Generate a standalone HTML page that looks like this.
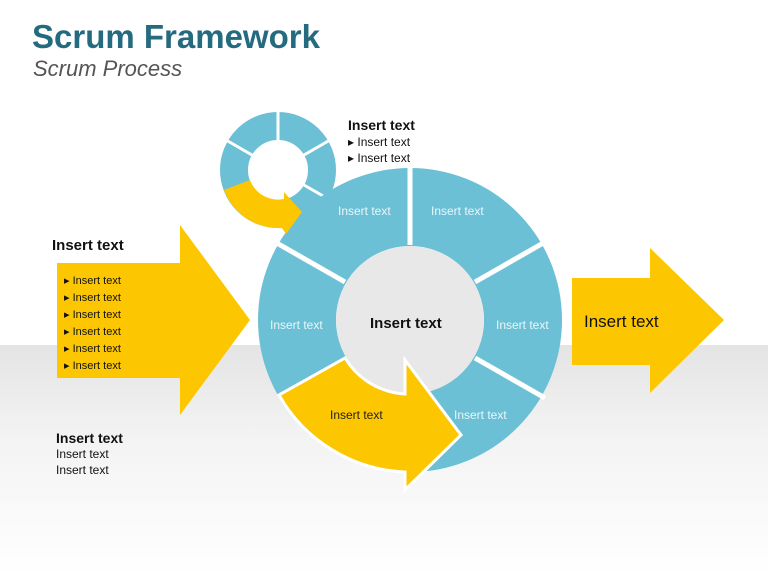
<!DOCTYPE html>
<html><head><style>
body{margin:0;width:768px;height:576px;overflow:hidden;font-family:"Liberation Sans",Arial,sans-serif;background:#fff;position:relative}
.bg{position:absolute;left:0;top:345px;width:768px;height:231px;background:linear-gradient(#e4e4e4,#f3f3f3 40%,#fff)}
.t{position:absolute;white-space:nowrap}
</style></head><body>
<div class="bg"></div>
<div class="t" style="left:32px;top:18px;font-size:33px;font-weight:bold;color:#256b80">Scrum Framework</div>
<div class="t" style="left:33px;top:56px;font-size:22px;font-style:italic;color:#555">Scrum Process</div>
<svg width="768" height="576" style="position:absolute;left:0;top:0">
<!-- small ring -->
<circle cx="278" cy="170" r="44" fill="none" stroke="#6cc0d5" stroke-width="28"/>
<g stroke="#fff" stroke-width="3">
<line x1="278" y1="110" x2="278" y2="141"/>
<line x1="304" y1="155" x2="330" y2="140"/>
<line x1="304" y1="185" x2="330" y2="200"/>
<line x1="252" y1="155" x2="226" y2="140"/>
</g>
<!-- big ring -->
<circle cx="410" cy="320" r="113" fill="none" stroke="#6cc0d5" stroke-width="78"/>
<circle cx="410" cy="320" r="74" fill="#e8e8e8"/>
<g stroke="#fff" stroke-width="5">
<line x1="410" y1="245" x2="410" y2="165"/>
<line x1="475" y1="282" x2="545" y2="242"/>
<line x1="475" y1="358" x2="545" y2="398"/>
<line x1="345" y1="282" x2="275" y2="242"/>
</g>
<!-- small arrow -->
<path d="M224,190 A58 58 0 0 0 282,228 L286,234 L302,212 L284,192 L284,199 A30 30 0 0 1 250,180 Z" fill="#fcc600"/>
<!-- big yellow arrow -->
<path d="M279,395 A152 152 0 0 0 405,472 L405,490 L461,435 L405,360 L405,394 A75 75 0 0 1 345,358 Z" fill="#fcc600" stroke="#fff" stroke-width="3"/>
<!-- left arrow -->
<path d="M57,263 L180,263 L180,225 L250,320 L180,415 L180,378 L57,378 Z" fill="#fcc600"/>
<!-- right arrow -->
<path d="M572,278 L650,278 L650,248 L724,320 L650,393 L650,365 L572,365 Z" fill="#fcc600"/>
</svg>
<div class="t" style="left:338px;top:204px;font-size:12px;color:#eaf6fa">Insert text</div>
<div class="t" style="left:431px;top:204px;font-size:12px;color:#eaf6fa">Insert text</div>
<div class="t" style="left:270px;top:318px;font-size:12px;color:#eaf6fa">Insert text</div>
<div class="t" style="left:496px;top:318px;font-size:12px;color:#eaf6fa">Insert text</div>
<div class="t" style="left:454px;top:408px;font-size:12px;color:#eaf6fa">Insert text</div>
<div class="t" style="left:330px;top:408px;font-size:12px;color:#222">Insert text</div>
<div class="t" style="left:370px;top:315px;font-size:15px;font-weight:bold;color:#111">Insert text</div>
<div class="t" style="left:584px;top:312px;font-size:17px;color:#111">Insert text</div>
<div class="t" style="left:348px;top:117px;font-size:14px;font-weight:bold;color:#111">Insert text</div>
<div class="t" style="left:348px;top:134px;font-size:12px;line-height:16px;color:#111">▸ Insert text<br>▸ Insert text</div>
<div class="t" style="left:52px;top:237px;font-size:15px;font-weight:bold;color:#111">Insert text</div>
<div class="t" style="left:64px;top:273px;font-size:11px;line-height:17px;color:#111">▸ Insert text<br>▸ Insert text<br>▸ Insert text<br>▸ Insert text<br>▸ Insert text<br>▸ Insert text</div>
<div class="t" style="left:56px;top:430px;font-size:14px;font-weight:bold;color:#111">Insert text</div>
<div class="t" style="left:56px;top:446px;font-size:12px;line-height:16px;color:#111">Insert text<br>Insert text</div>
</body></html>
